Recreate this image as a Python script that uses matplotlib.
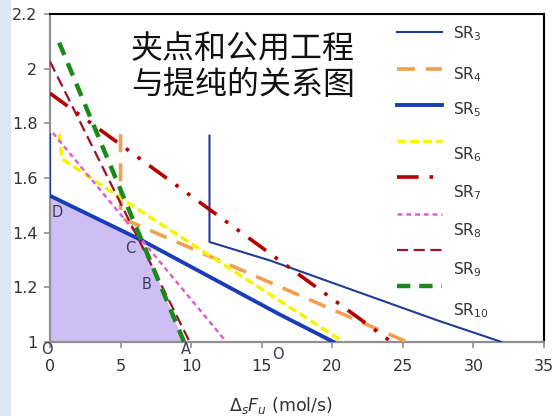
import numpy as np
import matplotlib
matplotlib.use("Agg")
import matplotlib.pyplot as plt
from matplotlib.patches import Rectangle

nan = np.nan
# ---- data ----
sr3_x = [0, 0, nan, 11.3, 11.3, 15.6, 27.4, 32.0]
sr3_y = [1.76, 1.545, nan, 1.755, 1.366, 1.298, 1.08, 1.0]
sr4_x = [5.0, 5.0, 25.3]
sr4_y = [1.76, 1.455, 1.0]
sr5_x = [0, 6.5, 16.3, 20.1]
sr5_y = [1.535, 1.372, 1.10, 1.0]
sr6_x = [0.65, 0.85, 5.8, 20.8]
sr6_y = [1.76, 1.67, 1.50, 1.0]
sr7_x = [0, 24.2]
sr7_y = [1.91, 1.0]
sr8_x = [0.2, 12.5]
sr8_y = [1.765, 1.0]
sr9_x = [0, 9.9]
sr9_y = [2.026, 1.0]
sr10_x = [0.65, 9.5]
sr10_y = [2.095, 1.0]
region_x = [0, 0, 6.5, 9.5]
region_y = [1.0, 1.535, 1.372, 1.0]

labels = ["SR$_3$", "SR$_4$", "SR$_5$", "SR$_6$", "SR$_7$", "SR$_8$", "SR$_9$", "SR$_{10}$"]
xticks = [0, 5, 10, 15, 20, 25, 30, 35]
yticks = [1.0, 1.2, 1.4, 1.6, 1.8, 2.0, 2.2]
ytick_labels = ["1", "1.2", "1.4", "1.6", "1.8", "2", "2.2"]
point_labels = ["O", "A", "B", "C", "D", "O"]
point_x = [-0.2, 9.63, 6.87, 5.67, 0.5, 16.15]
point_y = [0.971, 0.972, 1.21, 1.342, 1.473, 0.955]
title_text = "夹点和公用工程\n与提纯的关系图"
# downward shift (px) of each legend label relative to its key, as in the reference
label_shift = [1, 5, 4, 13, 15, 16, 19, 24]

fig = plt.figure(figsize=(5.55, 4.16), dpi=100)
fig.patches.append(Rectangle((0, 0), 10 / 555, 1, transform=fig.transFigure,
                             color="#dce6f5", zorder=0))
ax = fig.add_axes([50 / 555, 74 / 416, 494 / 555, 328 / 416])

ax.fill(region_x, region_y, color="#cdbff5", lw=0, zorder=1)

ax.plot(sr3_x, sr3_y, color="#1f3c96", lw=1.5, label=labels[0], zorder=3)
ax.plot(sr4_x, sr4_y, color="#f0a050", lw=2.6, dashes=(5, 3), label=labels[1], zorder=3)
ax.plot(sr5_x, sr5_y, color="#1a3db5", lw=2.8, label=labels[2], zorder=3)
ax.plot(sr6_x, sr6_y, color="#f5f500", lw=2.5, dashes=(2.5, 1.2), label=labels[3], zorder=3)
ax.plot(sr7_x, sr7_y, color="#b30000", lw=2.6, dashes=(6, 3, 1, 3, 1, 3), label=labels[4], zorder=3)
ax.plot(sr8_x, sr8_y, color="#e060d0", lw=1.8, dashes=(2, 1.5), label=labels[5], zorder=3)
ax.plot(sr9_x, sr9_y, color="#a0102a", lw=1.6, dashes=(5, 2.5), label=labels[6], zorder=3)
ax.plot(sr10_x, sr10_y, color="#1a8a1a", lw=3.2, dashes=(3, 2), label=labels[7], zorder=3)

ax.set_xlim(0, 35)
ax.set_ylim(1.0, 2.2)
ax.set_xticks(xticks)
ax.set_xticklabels([str(t) for t in xticks])
ax.set_yticks(yticks)
ax.set_yticklabels(ytick_labels)
ax.tick_params(direction="out", length=4, width=1.2, color="#909090",
               labelsize=11.5, labelcolor="#333333")
ax.tick_params(axis="x", pad=8)
ax.tick_params(axis="y", pad=5)
for s in ["left", "bottom"]:
    ax.spines[s].set_color("#909090")
    ax.spines[s].set_linewidth(1.6)
for s in ["top", "right"]:
    ax.spines[s].set_color("black")
    ax.spines[s].set_linewidth(1.5)

ax.set_xlabel(r"$\Delta_s F_u$ (mol/s)", fontsize=12.5, color="#333333", labelpad=15)
ax.xaxis.label.set_x(0.468)

for t, x, y in zip(point_labels, point_x, point_y):
    ax.text(x, y, t, fontsize=10.5, color="#3a3a5a", ha="center", va="center",
            clip_on=False, zorder=5)

fig.text(131 / 555, 1 - 33 / 416, title_text, fontsize=23, ha="left", va="top",
         family=["Noto Sans CJK SC", "DejaVu Sans"], linespacing=1.17, color="#111111")

leg = ax.legend(loc="upper left", bbox_to_anchor=(0.677, 1.008), frameon=False,
                fontsize=11, handlelength=2.95, labelspacing=1.15, handletextpad=0.75,
                borderpad=0.3)
for txt, d in zip(leg.get_texts(), label_shift):
    txt.set_color("#333333")
    txt.set_y(-d)

fig.savefig("out.png", dpi=100)
